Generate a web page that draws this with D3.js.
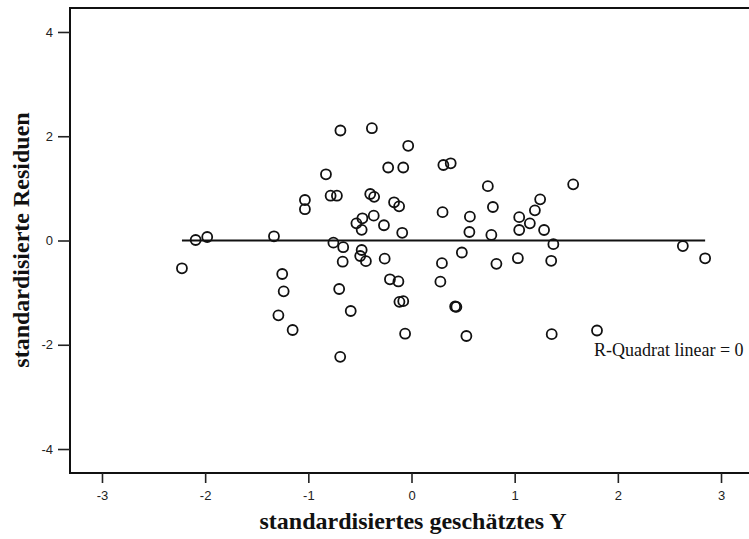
<!DOCTYPE html>
<html>
<head>
<meta charset="utf-8">
<script src="https://cdn.jsdelivr.net/npm/d3@7"></script>
<style>
  html, body { margin: 0; padding: 0; background: #fff; }
  svg { display: block; }
</style>
</head>
<body>
<svg id="chart" width="749" height="539"></svg>
<script>
// Standardized predicted values (x) and standardized residuals (y)
const predicted = [
  -2.225, -2.092, -1.980, -1.333, -1.253, -1.239, -1.290, -1.152, -1.033, -1.033,
  -0.829, -0.784, -0.723, -0.689, -0.757, -0.662, -0.667, -0.701, -0.691, -0.589,
  -0.534, -0.476, -0.483, -0.483, -0.497, -0.442, -0.384, -0.400, -0.362, -0.366,
  -0.267, -0.260, -0.226, -0.209, -0.169, -0.120, -0.127, -0.117, -0.080, -0.090,
  -0.080, -0.032, -0.062, 0.280, 0.295, 0.301, 0.309, 0.380, 0.423, 0.435,
  0.488, 0.532, 0.561, 0.566, 0.740, 0.789, 0.774, 0.823, 1.031, 1.044,
  1.044, 1.147, 1.196, 1.247, 1.285, 1.375, 1.354, 1.359, 1.567, 1.798,
  2.630, 2.846
];
const residuals = [
  -0.533, 0.010, 0.067, 0.081, -0.643, -0.975, -1.435, -1.717, 0.777, 0.600,
  1.270, 0.859, 0.859, 2.110, -0.042, -0.129, -0.407, -0.930, -2.231, -1.352,
  0.330, 0.426, 0.205, -0.182, -0.297, -0.397, 2.154, 0.892, 0.838, 0.476,
  0.293, -0.349, 1.400, -0.744, 0.733, 0.656, -0.786, -1.176, -1.164, 0.148,
  1.400, 1.817, -1.788, -0.790, -0.435, 0.543, 1.448, 1.481, -1.266, -1.274,
  -0.230, -1.832, 0.163, 0.457, 1.042, 0.643, 0.106, -0.447, -0.340, 0.447,
  0.201, 0.330, 0.579, 0.790, 0.201, -0.071, -0.389, -1.797, 1.078, -1.726,
  -0.106, -0.341
];
const xTicks = [-3, -2, -1, 0, 1, 2, 3];
const yTicks = [-4, -2, 0, 2, 4];
const rSquared = 0;       // linear fit: residual line at 0
const fitIntercept = 0;

const xTitle = "standardisiertes geschätztes Y";
const yTitle = "standardisierte Residuen";
const fitLabel = "R-Quadrat linear = " + rSquared;

const svg = d3.select("#chart");
const plot = { left: 70, top: 8, right: 753, bottom: 473 };

const x = d3.scaleLinear().domain([-3.31, 3.31]).range([plot.left, plot.right]);
const y = d3.scaleLinear().domain([-4.46, 4.46]).range([plot.bottom, plot.top]);

const points = predicted.map((v, i) => ({ x: v, y: residuals[i] }));

// Frame
svg.append("rect")
  .attr("x", plot.left).attr("y", plot.top)
  .attr("width", plot.right - plot.left).attr("height", plot.bottom - plot.top)
  .attr("fill", "none").attr("stroke", "#111").attr("stroke-width", 2);

// Axes (plain hyphen for negative tick labels)
const tickFont = "'Liberation Sans', Arial, sans-serif";
const fmt = d => String(d);
const xAxis = svg.append("g")
  .attr("transform", `translate(0,${plot.bottom})`)
  .call(d3.axisBottom(x).tickValues(xTicks).tickSize(10).tickSizeOuter(0).tickPadding(8)
    .tickFormat(fmt));
const yAxis = svg.append("g")
  .attr("transform", `translate(${plot.left},0)`)
  .call(d3.axisLeft(y).tickValues(yTicks).tickSize(12).tickSizeOuter(0).tickPadding(5)
    .tickFormat(fmt));
[xAxis, yAxis].forEach(g => {
  g.select(".domain").remove();
  g.selectAll(".tick line").attr("stroke", "#222").attr("stroke-width", 1.6);
  g.selectAll(".tick text")
    .attr("fill", "#222")
    .style("font-family", tickFont)
    .style("font-size", "13px");
});

// Fit line across the range of predicted values
const [xMin, xMax] = d3.extent(predicted);
svg.append("line")
  .attr("x1", x(xMin)).attr("x2", x(xMax))
  .attr("y1", y(fitIntercept)).attr("y2", y(fitIntercept))
  .attr("stroke", "#111").attr("stroke-width", 1.8);

// Points
svg.append("g").selectAll("circle")
  .data(points)
  .join("circle")
  .attr("cx", d => x(d.x))
  .attr("cy", d => y(d.y))
  .attr("r", 5)
  .attr("fill", "none")
  .attr("stroke", "#111")
  .attr("stroke-width", 1.8);

// Fit label
svg.append("text")
  .attr("x", 594).attr("y", 356)
  .style("font-family", "'Liberation Serif', 'Times New Roman', serif")
  .style("font-size", "18px")
  .attr("fill", "#111")
  .text(fitLabel);

// Axis titles
const titleFont = "'Liberation Serif', 'Times New Roman', serif";
svg.append("text")
  .attr("x", 413).attr("y", 529)
  .attr("text-anchor", "middle")
  .style("font-family", titleFont)
  .style("font-size", "24px")
  .style("font-weight", "bold")
  .attr("fill", "#111")
  .text(xTitle);

svg.append("text")
  .attr("transform", `translate(29,240) rotate(-90)`)
  .attr("text-anchor", "middle")
  .style("font-family", titleFont)
  .style("font-size", "24px")
  .style("font-weight", "bold")
  .attr("fill", "#111")
  .text(yTitle);
</script>
</body>
</html>
